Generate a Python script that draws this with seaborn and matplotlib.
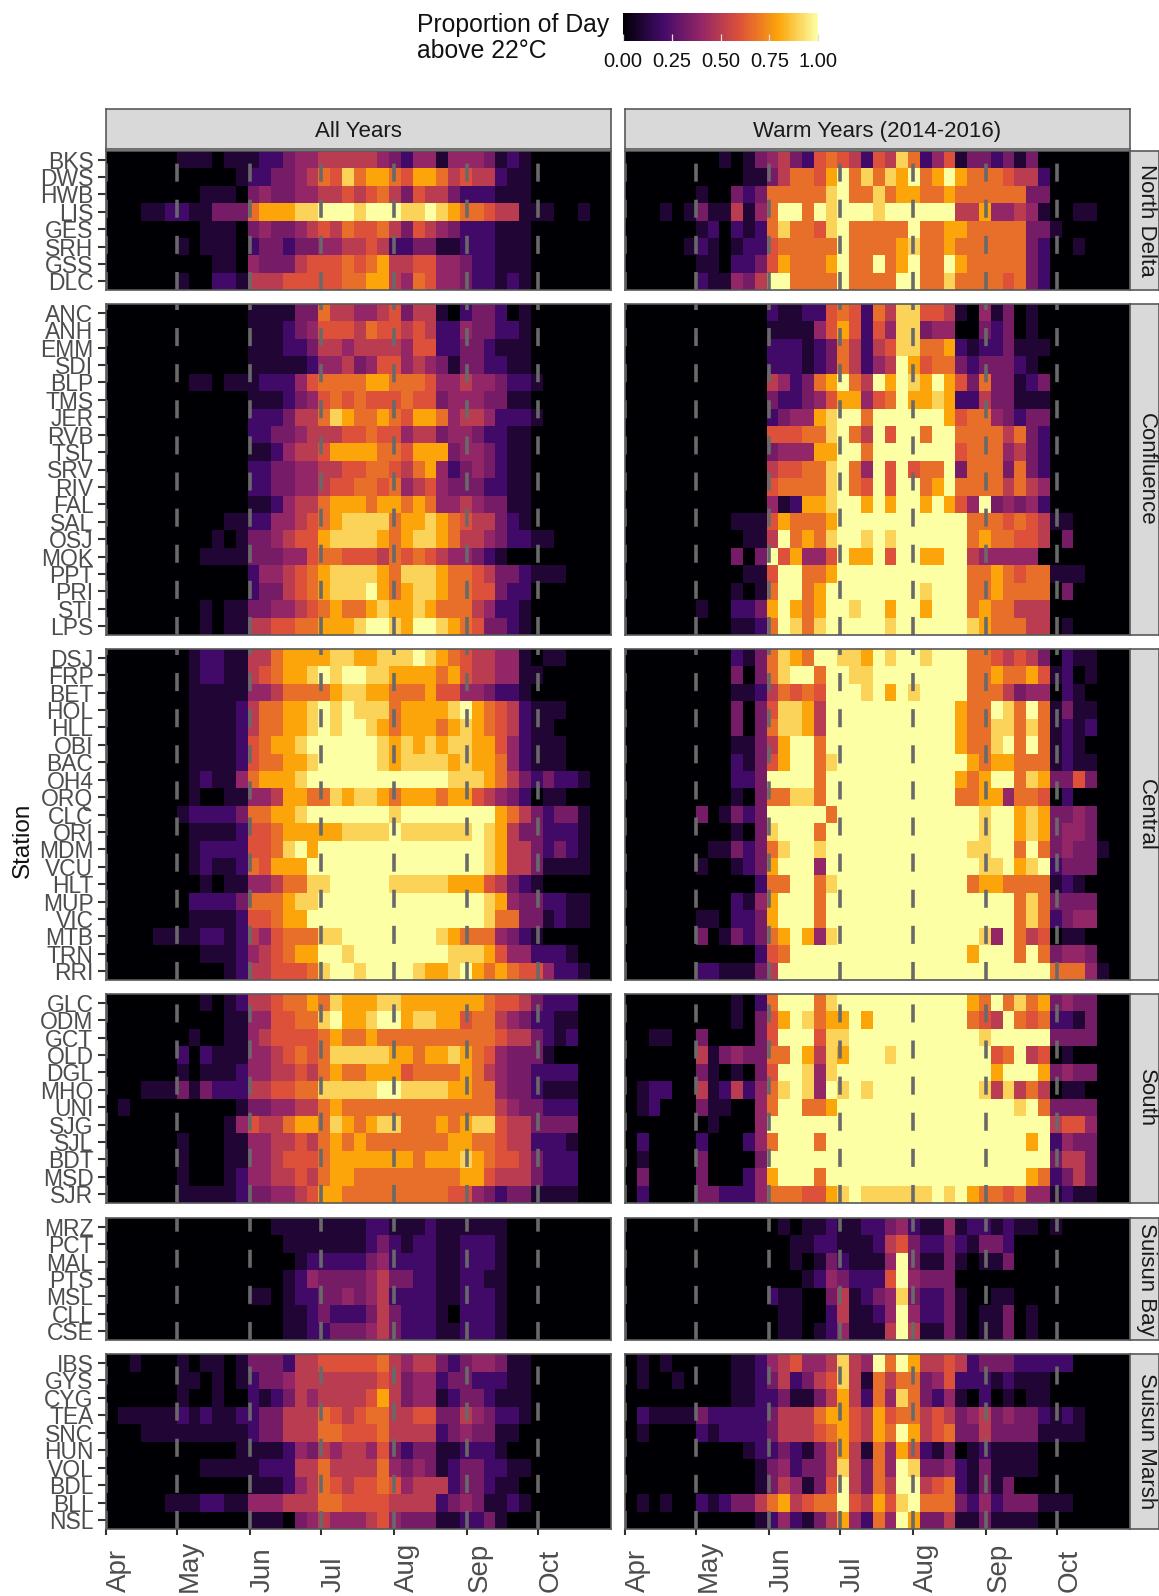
import numpy as np
import seaborn as sns
import matplotlib.pyplot as plt
from matplotlib.colors import LinearSegmentedColormap

# image size in pixels
WIDTH = 1159
HEIGHT = 1596

BIN_DAYS = 5
N_BINS = 43
N_DAYS = 214

MONTHS = ['Apr', 'May', 'Jun', 'Jul', 'Aug', 'Sep', 'Oct']
MONTH_START = [0, 30, 61, 91, 122, 153, 183]

COLUMNS = ['All Years', 'Warm Years (2014-2016)']
REGIONS = ['North Delta', 'Confluence', 'Central', 'South', 'Suisun Bay',
           'Suisun Marsh']

ST_NORTH = ['BKS', 'DWS', 'HWB', 'LIS', 'GES', 'SRH', 'GSS', 'DLC']
ST_CONF = ['ANC', 'ANH', 'EMM', 'SDI', 'BLP', 'TMS', 'JER', 'RVB', 'TSL',
           'SRV', 'RIV', 'FAL', 'SAL', 'OSJ', 'MOK', 'PPT', 'PRI', 'STI',
           'LPS']
ST_CENT = ['DSJ', 'FRP', 'BET', 'HOL', 'HLL', 'OBI', 'BAC', 'OH4', 'ORQ',
           'CLC', 'ORI', 'MDM', 'VCU', 'HLT', 'MUP', 'VIC', 'MTB', 'TRN',
           'RRI']
ST_SOUTH = ['GLC', 'ODM', 'GCT', 'OLD', 'DGL', 'MHO', 'UNI', 'SJG', 'SJL',
            'BDT', 'MSD', 'SJR']
ST_BAY = ['MRZ', 'PCT', 'MAL', 'PTS', 'MSL', 'CLL', 'CSE']
ST_MARSH = ['IBS', 'GYS', 'CYG', 'TEA', 'SNC', 'HUN', 'VOL', 'BDL', 'BLL',
            'NSL']

# one string per station, one character per 5 day bin from 1 April.
# the character is an index into LEVELS, X = whole day. groups of 6 are only
# there to keep the months readable, bins past the end of a string are 0
LEVELS = [0, 0.1, 0.2, 0.33, 0.4, 0.5, 0.6, 0.67, 0.8, 0.9]

NORTH_ALL = [
    "000000 111011 122344 555554 324414 443121",
    "000000 000001 223345 769788 768875 655211",
    "000000 001110 343344 556567 536553 222111",
    "000112 211333 788899 XXX9XX X99X98 776551 1100100",
    "000000 001110 343345 657667 536543 222111",
    "000000 101110 233233 445565 223311 222111",
    "000000 000110 433356 667678 556644 322111",
    "000000 100221 555666 667788 547644 322121",
]
NORTH_WARM = [
    "000000 001013 453267 652659 724613 323130",
    "000000 000011 357768 X79798 X78X87 776552",
    "000000 100323 777779 X77978 877877 777733",
    "000101 311514 7XX7X9 XXX9XX XXXX55 844541 0011000",
    "000000 120212 797769 X77777 X77887 777733 1",
    "000001 210122 677777 X77778 977877 777732 0010000",
    "000000 110223 687778 X77X78 X77X87 777732",
    "000000 211435 XX7777 X7777X X77977 776732",
]
CONF_ALL = [
    "000000 000000 111133 755445 635510 233201",
    "000000 000000 111234 666576 656522 433221",
    "000000 000000 111223 554555 546622 332111",
    "000000 000000 111112 445346 645431 332211",
    "000000 011011 122246 777788 777644 544322 1",
    "000000 000000 111234 676766 676634 443311",
    "000000 000000 222355 798778 768874 554222 1",
    "000000 000000 223345 556676 645534 432211",
    "000000 000000 112455 688887 768883 443211",
    "000000 000000 223344 556677 657842 343211",
    "000000 000000 223344 566776 745643 332211",
    "000000 000000 112455 788878 878744 543311",
    "000000 000011 224456 789999 788987 655321",
    "000000 000101 334566 899998 789987 554322 11",
    "000000 001111 333446 776665 767654 432100",
    "000000 000000 244567 899998 799987 765332 111",
    "000000 000000 233567 8999X8 789987 766322",
    "000000 001011 334456 787789 889877 754221",
    "000000 001011 556677 8889XX 98XX98 763321",
]
CONF_WARM = [
    "000000 000000 211226 762759 966510 413010",
    "000000 000000 111146 862649 934400 323010",
    "000000 000000 222123 752569 977821 223111",
    "000000 000000 222123 75245X 867732 333210",
    "000000 000000 542378 X75X8X 98X863 733123",
    "000000 000000 322346 88467X 889822 533111",
    "000000 000000 234489 XX7XXX XXX867 743233",
    "000000 000000 666779 X75X6X X7XX77 775732",
    "000000 000000 344488 XX7XXX XXXX67 774532",
    "000000 000000 566779 X74X6X 677X37 773732",
    "000000 000000 677779 X76X6X X78X77 775754",
    "000000 000000 412889 XX8X8X X8X864 X34342",
    "000000 000111 687778 XXXXXX XXXXX7 776765 11",
    "000000 000011 5X7879 XX9X9X XXXXX7 877665 03",
    "000000 000303 X68446 X88X6X X88XX5 444440",
    "000000 000011 6XX778 XXXXXX XXXXX7 787677 111",
    "000000 000101 7XX78X XXXXXX X9XXX7 787777 03",
    "000000 100223 8X878X X9XX8X X8XXX7 877555",
    "000000 000112 7X979X XXXX9X XXXXX9 877755 01",
]
CENT_ALL = [
    "000000 012211 557888 899889 99X987 655441 0110000",
    "000000 012211 567889 X9XX99 888878 655441 1",
    "000000 011111 445777 789988 777866 443221",
    "000000 011112 577889 X9X999 788889 X87652 111",
    "000000 011112 577889 X9XX98 788878 987652 11",
    "000000 011112 67889X XXXXX9 898989 988642 111",
    "000000 011112 677889 XXXXX9 899998 988742 111",
    "000000 012114 78889X XXXXXX XXXXX9 998753 23221",
    "000000 010011 445887 798998 788878 865432 011",
    "000000 122223 77889X XXXXXX 9XXXXX XXX875 32331",
    "000000 011112 667888 889999 X99999 9X9853 32221",
    "000000 012222 6679X8 XXXXXX XXXXXX XX9855 32321",
    "000000 012112 76888X XXXXXX XXXXXX XX9855 31111",
    "000000 001011 445779 9XXXXX 999998 886532 1",
    "000000 022223 777899 XXXXXX XXXXXX XX9843 32211",
    "000000 011112 66788X XXXXXX XXXXXX XX9773 31211",
    "000011 112212 546777 99XXXX XXXX98 777432 1",
    "000000 001112 456788 XX9XXX XXXXX9 998644 2221",
    "000000 000012 556667 9XX9XX XX9889 X87876 64221",
]
CENT_WARM = [
    "000000 000213 7987XX 998X9X X9XXX7 765653 02110",
    "000000 000303 79XX7X X99XXX XXXXX7 787786 12010",
    "000000 000112 57676X XX9X8X 9XXXX7 775344 0210",
    "000000 000303 69985X XXXXXX XXXX87 7X97X7 1311",
    "000000 000303 79985X XXXXXX XXXX87 799797 1212",
    "000000 000113 58XX7X XXXXXX XXXX87 79X7X7 121",
    "000000 000213 68XX79 XXXXXX XXXXX8 788777 1211",
    "000000 000223 XXXX7X XXXXXX XXXX87 8XX798 33630",
    "000000 000103 77997X XXXXXX XXXX77 884776 0200",
    "000000 301323 XXXXX7 XXXXXX XXXXXX 9XX898 3343",
    "000000 000103 9XXX7X XXXXXX XXXXXX 9XX898 3443",
    "000000 011323 79XX9X XXXXXX XXXXX9 9XX7X7 34331",
    "000000 100123 8XXX4X XXXXXX XXXXXX 99X89X 2333",
    "000000 000002 77XX79 XXXXXX XXXXX7 887777 1210",
    "000000 000214 8XXX7X XXXXXX XXXXXX XXX797 3333",
    "000000 110223 8XXX7X XXXXXX XXXXXX XXX797 2344",
    "000000 301323 78X849 XXXXXX XXXXXX 94X756 0110",
    "000000 000002 67XXXX XXXXXX XXXXX8 XXX7X7 3443",
    "000000 221113 5XXXXX XXXXXX XXXXXX XXXXXX 77741",
]
SOUTH_ALL = [
    "000000 001012 556778 798889 988888 887665 3222",
    "000000 000011 446677 9X889X X89988 677543 2211",
    "000000 010011 456666 787787 777777 777655 3212",
    "000000 202111 445676 799999 887889 876433 31",
    "000000 101112 445565 787788 867777 875433 2222",
    "000111 313222 556677 99999X X99998 877433 2111",
    "010000 000001 334455 787777 777777 777543 3222",
    "000000 000014 655788 798789 977787 899655 3333",
    "000000 100011 445565 787877 777778 877655 2221",
    "000000 100011 445666 788888 887888 987665 3222",
    "000000 100012 445565 788777 777777 886555 3222",
    "000000 111112 334456 887777 777776 643233 1111",
]
SOUTH_WARM = [
    "000000 000102 7XXX79 XXXXXX XXXXX8 7X7978 3433",
    "000000 000103 68X978 8X8XXX XXXXX7 65X767 2213",
    "001100 300003 6XXX69 9XXXXX XXXXXX 9XXXXX 3333",
    "000000 513433 77X859 8XXX9X XXXXXX X67X56 0100",
    "000000 310103 6XX949 XXXXXX XXXXXX X8XXX8 3433",
    "012200 512524 79X94X 9X9XXX XXXXXX 959575 0110",
    "012000 311004 7XX778 XXXXXX XXXXXX XXX9X7 3333",
    "000000 010004 XXXXXX XXXXXX XXXXXX XXXXXX 5664",
    "020000 200024 7XXX7X XXXXXX XXXXXX XXXX8X 2433",
    "010000 300003 XXXXXX XXXXXX XXXXXX XXXXXX 3553",
    "030000 300024 8XXX7X XXXXXX XXXXXX XXXX87 2353",
    "020000 332224 777668 9X9999 99X9X8 776744 1211",
]
BAY_ALL = [
    "000000 000000 001111 111122 111211 111100",
    "000000 000000 000111 111123 212211 222100",
    "000000 000000 000012 222234 222211 222100",
    "000000 000000 000124 333345 332211 221100",
    "000000 000000 110122 334345 222211 222100",
    "000000 000000 000112 322235 322210 222100",
    "000000 000000 000112 233345 322211 222100",
]
BAY_WARM = [
    "000000 000000 010112 112234 211412 212110 1",
    "000000 000000 001122 111256 322321 332000",
    "000000 000000 001013 21114X 311310 113000",
    "000000 000000 000124 32226X 433300",
    "000000 000000 211003 512349 322310 011000",
    "000000 000000 011002 51124X 422310 113010",
    "000000 000000 011012 41115X 511310 113010",
]
MARSH_ALL = [
    "001000 101101 333255 666667 545532 344311",
    "000000 110101 233455 555556 534423 322211",
    "000000 100100 212354 555568 534412 332111",
    "011111 212112 233555 765677 556633 543221",
    "000111 111111 233555 776667 555523 433110",
    "000000 000001 111243 545546 323311 222100",
    "000000 001111 122255 755557 434312 332211",
    "000000 000000 111245 765667 645552 332110",
    "000001 112211 444555 776666 555523 431121",
    "000000 000000 111034 544456 433311 223100",
]
MARSH_WARM = [
    "010100 000112 456445 954X7X 855652 333222 22",
    "010010 000112 352356 951757 734622 212111",
    "000000 000112 231135 852749 732410 201011",
    "021111 322222 355578 865867 756534 534332 121",
    "010000 212222 355567 86587X 856733 533331 111",
    "000000 000012 232135 851748 621301 211110",
    "000000 000001 342335 95374X 933421 311110",
    "000000 000001 354136 X5375X X56721 313000",
    "010100 212335 785677 X65869 X77732 423331 11",
    "000000 000001 242135 84274X 833511 311110",
]

STATIONS = [ST_NORTH, ST_CONF, ST_CENT, ST_SOUTH, ST_BAY, ST_MARSH]
DATA_ALL = [NORTH_ALL, CONF_ALL, CENT_ALL, SOUTH_ALL, BAY_ALL, MARSH_ALL]
DATA_WARM = [NORTH_WARM, CONF_WARM, CENT_WARM, SOUTH_WARM, BAY_WARM, MARSH_WARM]

# panel edges in pixels
COL_X = [(106, 611), (625, 1130)]
ROW_Y = [(151, 290), (304, 635), (649, 980), (994, 1203), (1218, 1340),
         (1354, 1529)]

BORDER = '#595959'
TICK_TEXT = '#4D4D4D'
DASH = '#696969'
STRIP = '#D9D9D9'

# six steps of inferno, straight lines in between
CMAP = LinearSegmentedColormap.from_list(
    'inferno6', ['#000004', '#420A68', '#932667', '#DD513A', '#FCA50A',
                 '#FCFFA4'])


def to_matrix(rows):
    """Turn the strings of one panel into a 2d array of proportions."""
    out = []
    for row in rows:
        row = row.replace(' ', '').ljust(N_BINS, '0')[:N_BINS]
        out.append([1.0 if c == 'X' else LEVELS[int(c)] for c in row])
    return np.array(out)


def add_box(fig, x0, y0, x1, y1):
    """Add an axes given in pixels from the top left of the picture."""
    return fig.add_axes([x0 / WIDTH, 1 - y1 / HEIGHT,
                         (x1 - x0) / WIDTH, (y1 - y0) / HEIGHT])


def add_strip(fig, x0, y0, x1, y1, label, rotation=0):
    """Grey facet label."""
    ax = add_box(fig, x0, y0, x1, y1)
    ax.set_facecolor(STRIP)
    ax.set_xticks([])
    ax.set_yticks([])
    for spine in ax.spines.values():
        spine.set_color(BORDER)
        spine.set_linewidth(1.2)
    tx, ty = (0.58, 0.5) if rotation else (0.5, 0.44)
    ax.text(tx, ty, label, transform=ax.transAxes, ha='center', va='center',
            rotation=rotation, fontsize=16, color='#1A1A1A')


def draw_panel(ax, values, stations, show_y, show_x, cbar_ax=None):
    """One heat map with the dashed month lines on it."""
    sns.heatmap(values, ax=ax, cmap=CMAP, vmin=0, vmax=1,
                cbar=cbar_ax is not None, cbar_ax=cbar_ax,
                cbar_kws={'orientation': 'horizontal'},
                xticklabels=False, yticklabels=False)
    ax.set_xlim(0, N_DAYS / BIN_DAYS)

    # drawn from the bottom so that the dash phase starts at the axis
    for day in MONTH_START:
        ax.plot([day / BIN_DAYS, day / BIN_DAYS], [len(stations), 0],
                color=DASH, lw=2.6, linestyle=(0, (5, 5)), clip_on=True)

    for spine in ax.spines.values():
        spine.set_visible(True)
        spine.set_color(BORDER)
        spine.set_linewidth(1.2)

    ax.tick_params(left=False, bottom=False)
    if show_y:
        ax.set_yticks(np.arange(len(stations)) + 0.5)
        ax.set_yticklabels(stations, rotation=0, fontsize=16.5,
                           color=TICK_TEXT)
        ax.tick_params(axis='y', left=True, length=5.5, width=1.5,
                       color='#333333', pad=3.5)
    if show_x:
        ax.set_xticks([day / BIN_DAYS for day in MONTH_START])
        ax.set_xticklabels(MONTHS, rotation=90, fontsize=20, color=TICK_TEXT,
                           ha='left')
        # labels end together at the bottom of the picture
        ax.tick_params(axis='x', bottom=True, length=4.5, width=1.5,
                       color='#333333', pad=41)
        plt.setp(ax.get_xticklabels(), va='bottom')


def main():
    sns.set_style('white')
    plt.rcParams['font.family'] = ['Liberation Sans', 'DejaVu Sans']

    fig = plt.figure(figsize=(WIDTH / 100, HEIGHT / 100), dpi=100)
    cax = add_box(fig, 623, 13, 818, 41)

    for r, (y0, y1) in enumerate(ROW_Y):
        last = r == len(ROW_Y) - 1
        for c, (x0, x1) in enumerate(COL_X):
            rows = DATA_ALL[r] if c == 0 else DATA_WARM[r]
            ax = add_box(fig, x0, y0, x1, y1)
            draw_panel(ax, to_matrix(rows), STATIONS[r], c == 0, last,
                       cbar_ax=cax if r == 0 and c == 0 else None)
        add_strip(fig, 1130, y0, 1159, y1, REGIONS[r], rotation=-90)

    for c, (x0, x1) in enumerate(COL_X):
        add_strip(fig, x0, 109, x1, 149, COLUMNS[c])

    # colour bar legend
    cax.set_xticks([0, 0.25, 0.5, 0.75, 1])
    cax.set_xticklabels(['0.00', '0.25', '0.50', '0.75', '1.00'], fontsize=14.5,
                        color='#111111')
    cax.tick_params(axis='x', direction='in', length=5, width=0.9,
                    color='#F0D8E0', pad=8, bottom=True)
    cax.set_axisbelow(False)
    for spine in cax.spines.values():
        spine.set_visible(False)

    fig.text(417 / WIDTH, 1 - 25 / HEIGHT, 'Proportion of Day', fontsize=17.8,
             va='center', color='#111111')
    fig.text(417 / WIDTH, 1 - 51 / HEIGHT, 'above 22°C', fontsize=17.8,
             va='center', color='#111111')
    fig.text(23 / WIDTH, 1 - 840 / HEIGHT, 'Station', fontsize=17.5,
             rotation=90, ha='center', va='center', color='#111111')

    fig.savefig('out.png', dpi=100, facecolor='white')


if __name__ == "__main__":
    main()
